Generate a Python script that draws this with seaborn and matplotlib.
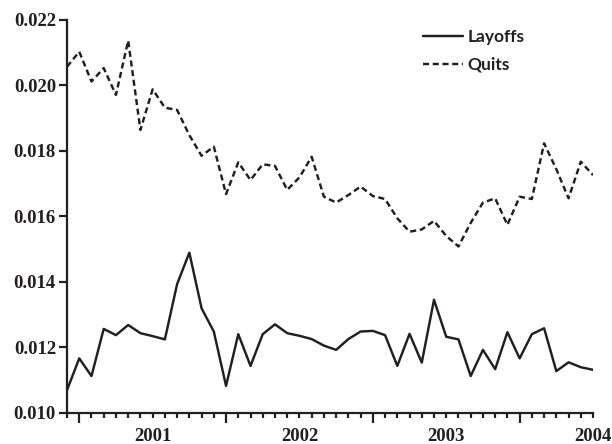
import numpy as np
import pandas as pd
import matplotlib
matplotlib.use("Agg")
import matplotlib.pyplot as plt
import matplotlib.transforms as mtransforms
from matplotlib.ticker import FixedLocator, FormatStrFormatter, NullFormatter
import seaborn as sns

# ---- data -------------------------------------------------------------
months = pd.period_range("2000-12", "2004-07", freq="M")
layoffs = [0.01069, 0.01166, 0.01112, 0.01256, 0.01237, 0.01268, 0.01243, 0.01234,
           0.01224, 0.01393, 0.01489, 0.01319, 0.01248, 0.01082, 0.01240, 0.01143,
           0.01240, 0.01270, 0.01243, 0.01235, 0.01225, 0.01205, 0.01192, 0.01225,
           0.01248, 0.01250, 0.01237, 0.01143, 0.01241, 0.01153, 0.01345, 0.01232,
           0.01224, 0.01112, 0.01192, 0.01133, 0.01246, 0.01166, 0.01240, 0.01258,
           0.01127, 0.01154, 0.01139, 0.01131]
quits = [0.02057, 0.02103, 0.02012, 0.02053, 0.01971, 0.02137, 0.01864, 0.01988,
         0.01932, 0.01925, 0.01848, 0.01785, 0.01813, 0.01668, 0.01765, 0.01711,
         0.01759, 0.01754, 0.01681, 0.01719, 0.01782, 0.01660, 0.01642, 0.01665,
         0.01691, 0.01662, 0.01653, 0.01594, 0.01553, 0.01560, 0.01586, 0.01540,
         0.01508, 0.01580, 0.01642, 0.01655, 0.01574, 0.01660, 0.01653, 0.01823,
         0.01744, 0.01655, 0.01767, 0.01726]
series_names = ["Layoffs", "Quits"]
y_ticks = [0.010, 0.012, 0.014, 0.016, 0.018, 0.020, 0.022]
year_labels = ["2001", "2002", "2003", "2004"]

# ---- frame ------------------------------------------------------------
idx = np.arange(len(months))
df = pd.DataFrame({
    "t": np.concatenate([idx, idx]),
    "rate": np.concatenate([layoffs, quits]),
    "series": [series_names[0]] * len(idx) + [series_names[1]] * len(idx),
})

sns.set_theme(style="ticks")
plt.rcParams["font.family"] = ["Liberation Serif", "DejaVu Serif"]

INK = "#231f20"
fig = plt.figure(figsize=(6.12, 4.44), dpi=100)
ax = fig.add_axes([0.1095, 0.0705, 0.8595, 0.8845])

sns.lineplot(data=df, x="t", y="rate", style="series", color=INK,
             dashes={"Layoffs": "", "Quits": (2.5, 1.5)},
             linewidth=1.75, ax=ax, legend=True)

ax.set_xlim(idx[0], idx[-1])
ax.set_ylim(y_ticks[0], y_ticks[-1])
ax.set_xlabel("")
ax.set_ylabel("")

for s in ["top", "right"]:
    ax.spines[s].set_visible(False)
for s in ["left", "bottom"]:
    ax.spines[s].set_linewidth(1.6)
    ax.spines[s].set_color(INK)

# y ticks
ax.yaxis.set_major_locator(FixedLocator(y_ticks))
ax.yaxis.set_major_formatter(FormatStrFormatter("%.3f"))
ax.tick_params(axis="y", direction="out", length=6, width=1.6, color=INK,
               pad=2, labelsize=13.5, labelcolor=INK)
for lab in ax.get_yticklabels():
    lab.set_fontweight("bold")

# x ticks: long at January, short every month
jan = [i for i, m in enumerate(months) if m.month == 1]
ax.xaxis.set_major_locator(FixedLocator(jan))
ax.xaxis.set_minor_locator(FixedLocator(list(idx)))
ax.xaxis.set_major_formatter(NullFormatter())
ax.tick_params(axis="x", which="major", direction="out", length=7, width=1.6, color=INK)
ax.tick_params(axis="x", which="minor", direction="out", length=3.5, width=1.6, color=INK)

# year labels at mid-year (July)
jul = [i for i, m in enumerate(months) if m.month == 7]
trans = mtransforms.blended_transform_factory(ax.transData, ax.transAxes)
for pos, lab in zip(jul, year_labels):
    ax.text(pos, -0.061, lab, transform=trans, ha="center", va="center",
            fontsize=13.5, fontweight="bold", color=INK, clip_on=False)

# legend
handles, labels = ax.get_legend_handles_labels()
ax.legend(handles, labels, loc="upper left", bbox_to_anchor=(0.676, 0.977),
          frameon=False, handlelength=2.3, handletextpad=0.3, labelspacing=0.67,
          borderaxespad=0, borderpad=0,
          prop={"family": ["Lato", "DejaVu Sans"], "size": 12.5, "weight": "bold"},
          labelcolor=INK)

fig.savefig("out.png", dpi=100)
